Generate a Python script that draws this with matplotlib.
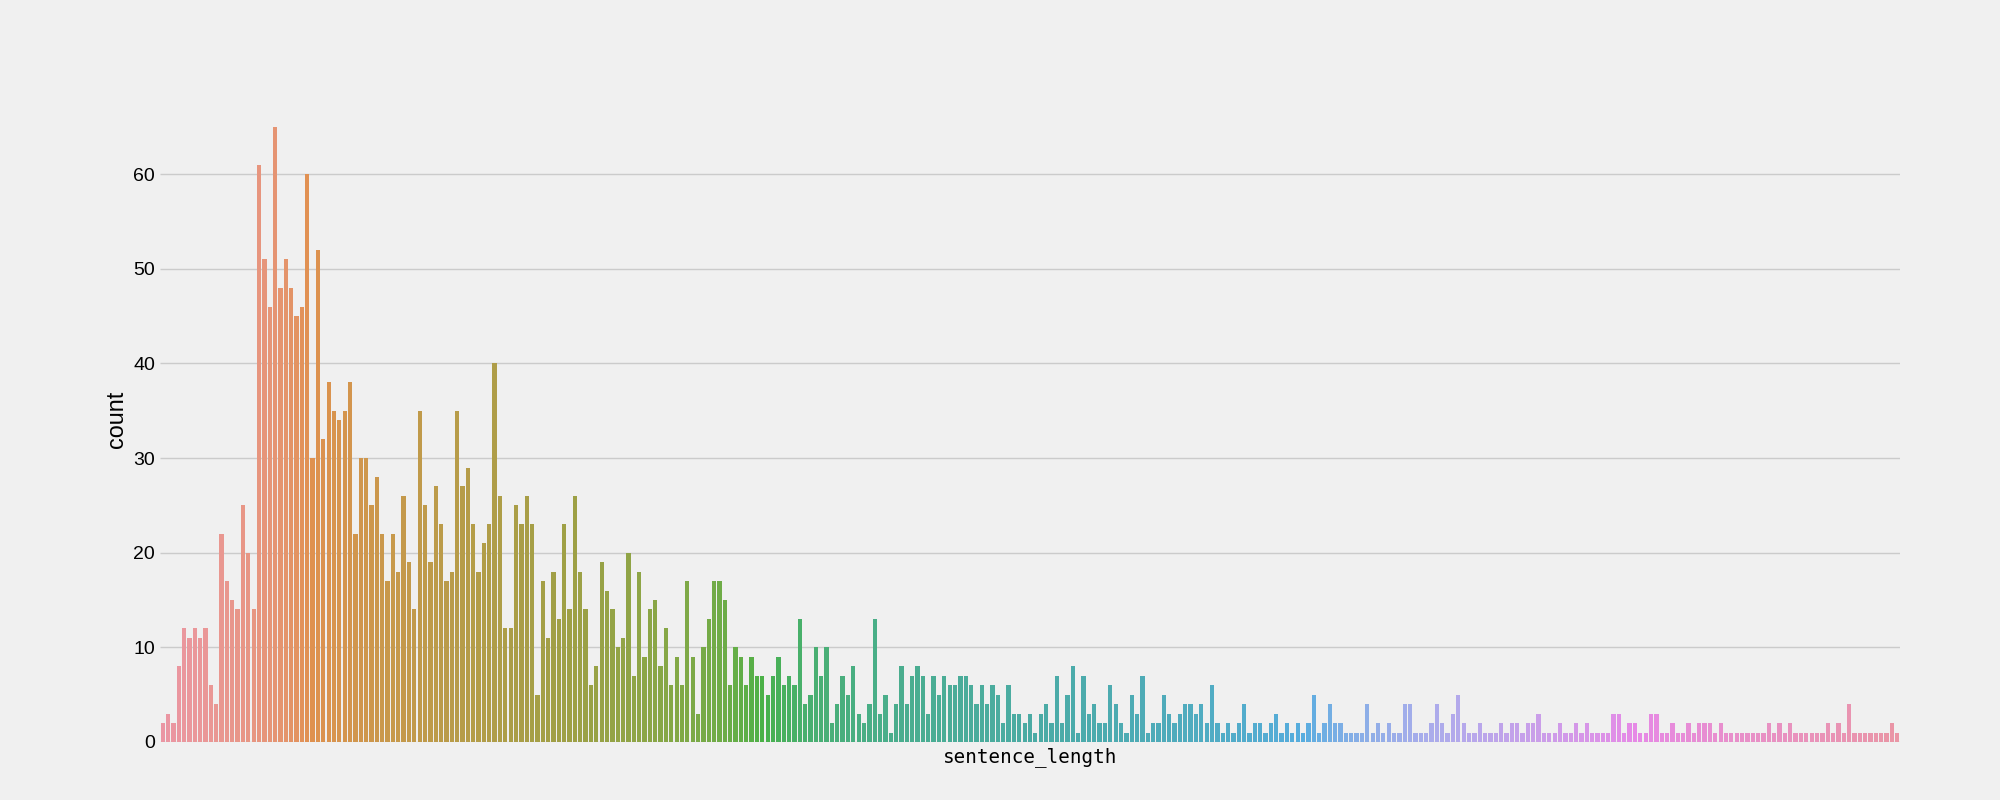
import matplotlib
matplotlib.use("Agg")
import matplotlib.pyplot as plt
import numpy as np
import seaborn as sns

# counts per sentence_length category (in sorted category order, labels hidden in the chart)
counts = [
    2, 3, 2, 8, 12, 11, 12, 11, 12, 6, 4, 22, 17, 15, 14, 25, 20, 14, 61, 51,
    46, 65, 48, 51, 48, 45, 46, 60, 30, 52, 32, 38, 35, 34, 35, 38, 22, 30, 30, 25,
    28, 22, 17, 22, 18, 26, 19, 14, 35, 25, 19, 27, 23, 17, 18, 35, 27, 29, 23, 18,
    21, 23, 40, 26, 12, 12, 25, 23, 26, 23, 5, 17, 11, 18, 13, 23, 14, 26, 18, 14,
    6, 8, 19, 16, 14, 10, 11, 20, 7, 18, 9, 14, 15, 8, 12, 6, 9, 6, 17, 9,
    3, 10, 13, 17, 17, 15, 6, 10, 9, 6, 9, 7, 7, 5, 7, 9, 6, 7, 6, 13,
    4, 5, 10, 7, 10, 2, 4, 7, 5, 8, 3, 2, 4, 13, 3, 5, 1, 4, 8, 4,
    7, 8, 7, 3, 7, 5, 7, 6, 6, 7, 7, 6, 4, 6, 4, 6, 5, 2, 6, 3,
    3, 2, 3, 1, 3, 4, 2, 7, 2, 5, 8, 1, 7, 3, 4, 2, 2, 6, 4, 2,
    1, 5, 3, 7, 1, 2, 2, 5, 3, 2, 3, 4, 4, 3, 4, 2, 6, 2, 1, 2,
    1, 2, 4, 1, 2, 2, 1, 2, 3, 1, 2, 1, 2, 1, 2, 5, 1, 2, 4, 2,
    2, 1, 1, 1, 1, 4, 1, 2, 1, 2, 1, 1, 4, 4, 1, 1, 1, 2, 4, 2,
    1, 3, 5, 2, 1, 1, 2, 1, 1, 1, 2, 1, 2, 2, 1, 2, 2, 3, 1, 1,
    1, 2, 1, 1, 2, 1, 2, 1, 1, 1, 1, 3, 3, 1, 2, 2, 1, 1, 3, 3,
    1, 1, 2, 1, 1, 2, 1, 2, 2, 2, 1, 2, 1, 1, 1, 1, 1, 1, 1, 1,
    2, 1, 2, 1, 2, 1, 1, 1, 1, 1, 1, 2, 1, 2, 1, 4, 1, 1, 1, 1,
    1, 1, 1, 2, 1,
]
x_label = "sentence_length"
y_label = "count"
y_ticks = [0, 10, 20, 30, 40, 50, 60]

plt.style.use("fivethirtyeight")
plt.rcParams["font.family"] = ["Liberation Sans", "DejaVu Sans"]

n = len(counts)
colors = sns.color_palette(sns.husl_palette(n, l=.7), desat=.75)

fig, ax = plt.subplots(figsize=(20, 8), dpi=100)
fig.patch.set_facecolor("#f0f0f0")
ax.set_facecolor("#f0f0f0")

pos = np.arange(n)
ax.bar(pos, counts, width=0.8, color=colors, linewidth=0, zorder=2)

ax.set_xlim(-0.5, n - 0.5)
ax.set_ylim(0, max(counts) * 1.05)
ax.set_yticks(y_ticks)
ax.set_xticks([])
ax.xaxis.grid(False)
ax.yaxis.grid(True, color="#cbcbcb", linewidth=1.0)
ax.set_axisbelow(True)
for s in ax.spines.values():
    s.set_visible(False)
ax.tick_params(axis="y", labelsize=14, length=0)

ax.set_xlabel(x_label, family=["DejaVu Sans Mono"], fontsize=13.9)
ax.set_ylabel(y_label, fontsize=16.8)

fig.subplots_adjust(left=0.08, right=0.95, bottom=0.0725, top=0.88)
fig.savefig("out.png", dpi=100, facecolor="#f0f0f0")
